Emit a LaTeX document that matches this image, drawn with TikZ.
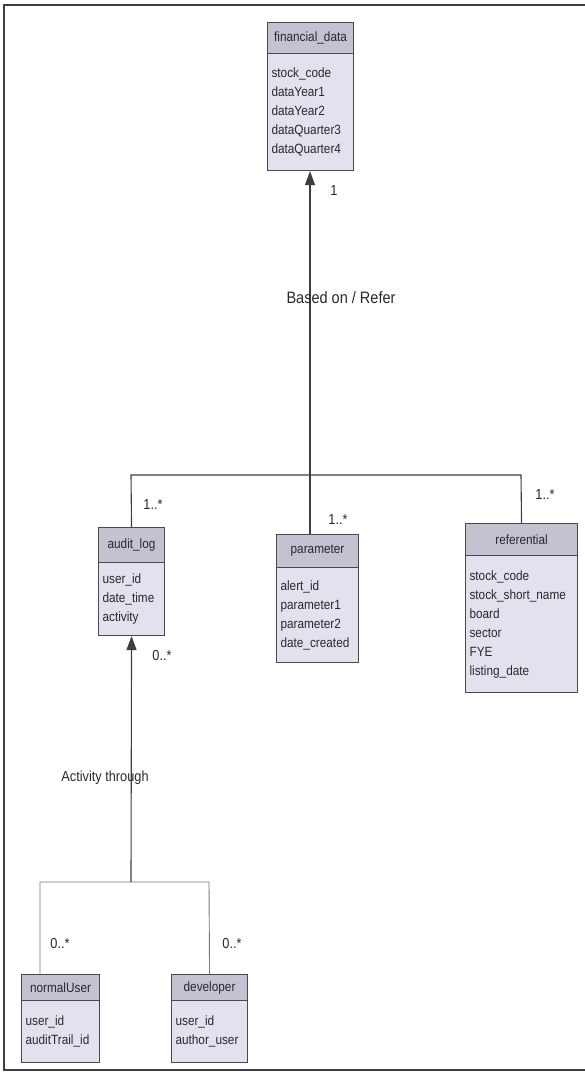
\documentclass[tikz,border=0pt]{standalone}
\usepackage{fontspec}
\setmainfont{Liberation Sans}
\newfontfamily\condfont[FakeStretch=0.88]{Liberation Sans}
\usetikzlibrary{arrows.meta}
\definecolor{hdrcol}{RGB}{194,194,208}
\definecolor{bdycol}{RGB}{226,226,238}
\definecolor{edgecol}{RGB}{72,72,78}
\definecolor{txtcol}{RGB}{40,40,46}
\definecolor{linecol}{RGB}{62,62,66}
\definecolor{thincol}{RGB}{120,120,124}
\tikzset{
  hdr/.style={draw=edgecol, line width=1.1pt, fill=hdrcol, inner sep=0pt, anchor=north west,
    text=txtcol, font=\condfont\fontsize{13.4}{15}\selectfont},
  bdy/.style={draw=edgecol, line width=1.1pt, fill=bdycol, inner xsep=4pt, inner ysep=0pt,
    anchor=north west, align=left, text=txtcol, font=\condfont\fontsize{13.4}{19}\selectfont},
  conn/.style={draw=linecol, line width=1.1pt},
  thinconn/.style={draw=thincol, line width=0.9pt},
  tip/.style={-{Triangle[length=14pt,width=10pt]}},
  lbl/.style={text=txtcol, inner sep=0pt, font=\condfont\fontsize{14.5}{16}\selectfont},
  frame/.style={draw=linecol, line width=2.6pt}
}
\newcommand{\umlcls}[8]{%
  \node[hdr, minimum width={(#4-#2)*1pt}, minimum height={(#5-#3)*1pt}] (#1h) at (#2,#3) {#7};
  \node[bdy, minimum width={(#4-#2)*1pt}, text width={(#4-#2-8)*1pt}, minimum height={(#6-#5)*1pt}] (#1) at (#2,#5) {#8};
}
\begin{document}
\begin{tikzpicture}[x=1pt, y=-1pt]
\useasboundingbox (0,0) rectangle (585,1077);
\draw[frame] (585,5) -- (4,5) -- (4,1070) -- (585,1070);

\umlcls{fd}{267}{22}{353}{53}{170}{financial\_data}{stock\_code\\dataYear1\\dataYear2\\dataQuarter3\\dataQuarter4}
\umlcls{al}{98}{527}{164}{562}{635}{audit\_log}{user\_id\\date\_time\\activity}
\umlcls{pm}{276}{534}{358}{567}{662}{parameter}{alert\_id\\parameter1\\parameter2\\date\_created}
\umlcls{rf}{465}{523}{577}{555}{692}{referential}{stock\_code\\stock\_short\_name\\board\\sector\\FYE\\listing\_date}
\umlcls{nu}{21}{974}{99}{1000}{1062}{normalUser}{user\_id\\auditTrail\_id}
\umlcls{dv}{171}{974}{247}{1000}{1062}{developer}{user\_id\\author\_user}

% upper association
\coordinate (jl) at (131,475);
\coordinate (jm) at (310,475);
\coordinate (jr) at (521,475);
\draw[conn] (alh.north) -- (jl) -- (jr) -- (rfh.north);
\draw[conn, tip] (pmh.north -| jm) -- (fd.south -| jm);

% lower association
\coordinate (kl) at (40,882);
\coordinate (km) at (131,882);
\coordinate (kr) at (209,882);
\draw[thinconn] (nuh.north -| kl) -- (kl) -- (kr) -- (dvh.north);
\draw[conn, tip] (km) -- (al.south);

% labels
\node[lbl] (l1) at (334,191) {1};
\node[lbl, font=\condfont\fontsize{16.5}{18}\selectfont] (lb) at (341,298) {Based on / Refer};
\node[lbl] (l2) at (153,505) {1..*};
\node[lbl] (l3) at (338,520) {1..*};
\node[lbl] (l4) at (545,495) {1..*};
\node[lbl] (l5) at (162,655) {0..*};
\node[lbl] (la) at (105,778) {Activity through};
\node[lbl] (l6) at (60,943) {0..*};
\node[lbl] (l7) at (232,943) {0..*};
\end{tikzpicture}
\end{document}
